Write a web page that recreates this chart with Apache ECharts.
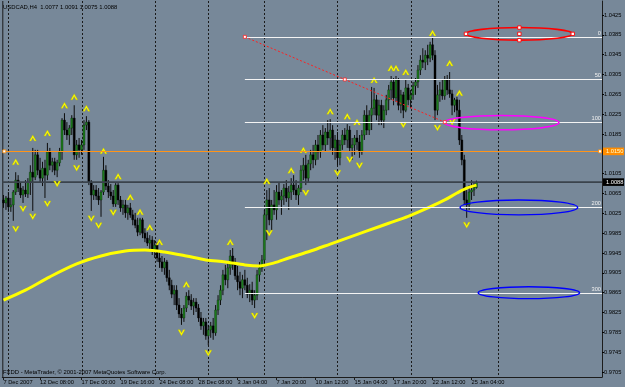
<!DOCTYPE html>
<html><head><meta charset="utf-8">
<script src="https://cdn.jsdelivr.net/npm/echarts@6/dist/echarts.min.js"></script>
<style>html,body{margin:0;padding:0;background:#778899}#c{width:625px;height:387px}</style>
</head><body><div id="c"></div>
<script>
// ---------- data ----------
const header = 'USDCAD,H4  1.0077 1.0091 1.0075 1.0088';
const footer = 'FXDD - MetaTrader, \u00a9 2001-2007 MetaQuotes Software Corp.';
const barCount = 246;
const opens = [1.0052,1.0046,1.0056,1.0038,1.0042,1.0068,1.0092,1.0076,1.0062,1.0072,1.0064,1.0088,1.0108,1.0098,1.0143,1.0112,1.0096,1.0116,1.0102,1.0149,1.0122,1.0129,1.0112,1.0127,1.0149,1.0213,1.0193,1.0183,1.0197,1.0217,1.0143,1.0163,1.0153,1.0163,1.0203,1.0209,1.0088,1.0062,1.0072,1.0060,1.0052,1.0068,1.0112,1.0080,1.0068,1.0060,1.0044,1.0082,1.0052,1.0036,1.0042,1.0026,1.0036,1.0022,1.0012,1.0001,0.9987,1.0012,0.9985,0.9975,0.9965,0.9971,0.9951,0.9961,0.9935,0.9927,0.9915,0.9927,0.9895,0.9880,0.9862,0.9870,0.9840,0.9822,0.9814,0.9834,0.9858,0.9850,0.9838,0.9846,0.9834,0.9814,0.9798,0.9806,0.9778,0.9790,0.9798,0.9784,0.9830,0.9850,0.9870,0.9901,0.9891,0.9915,0.9939,0.9921,0.9899,0.9887,0.9874,0.9891,0.9880,0.9862,0.9870,0.9850,0.9860,0.9901,0.9915,0.9931,1.0022,1.0052,1.0012,1.0042,1.0032,1.0068,1.0052,1.0060,1.0076,1.0056,1.0068,1.0082,1.0072,1.0062,1.0076,1.0112,1.0122,1.0096,1.0125,1.0143,1.0133,1.0163,1.0149,1.0183,1.0163,1.0189,1.0177,1.0193,1.0157,1.0173,1.0137,1.0163,1.0183,1.0173,1.0193,1.0157,1.0163,1.0177,1.0169,1.0149,1.0183,1.0223,1.0193,1.0223,1.0237,1.0254,1.0223,1.0243,1.0213,1.0233,1.0254,1.0274,1.0290,1.0258,1.0294,1.0243,1.0264,1.0233,1.0278,1.0254,1.0264,1.0282,1.0290,1.0314,1.0334,1.0330,1.0344,1.0338,1.0365,1.0344,1.0233,1.0264,1.0274,1.0262,1.0294,1.0274,1.0266,1.0243,1.0254,1.0233,1.0173,1.0133,1.0052,1.0042,1.0068,1.0072,1.0077];
const highs = [1.0062,1.0060,1.0068,1.0056,1.0072,1.0108,1.0102,1.0088,1.0080,1.0092,1.0096,1.0122,1.0157,1.0153,1.0153,1.0137,1.0129,1.0133,1.0167,1.0157,1.0137,1.0137,1.0133,1.0157,1.0217,1.0227,1.0209,1.0203,1.0223,1.0243,1.0173,1.0177,1.0173,1.0213,1.0221,1.0213,1.0092,1.0082,1.0082,1.0076,1.0072,1.0139,1.0122,1.0092,1.0084,1.0072,1.0086,1.0086,1.0060,1.0052,1.0052,1.0042,1.0046,1.0032,1.0026,1.0016,1.0016,1.0016,0.9995,0.9987,0.9981,0.9979,0.9971,0.9967,0.9951,0.9939,0.9935,0.9931,0.9911,0.9891,0.9880,0.9880,0.9854,0.9834,0.9840,0.9866,0.9870,0.9862,0.9854,0.9854,0.9842,0.9826,0.9814,0.9814,0.9800,0.9806,0.9814,0.9840,0.9860,0.9880,0.9911,0.9921,0.9927,0.9951,0.9955,0.9935,0.9919,0.9907,0.9901,0.9911,0.9895,0.9882,0.9887,0.9870,0.9911,0.9927,0.9941,1.0032,1.0072,1.0076,1.0052,1.0072,1.0082,1.0088,1.0072,1.0084,1.0092,1.0080,1.0096,1.0102,1.0092,1.0082,1.0122,1.0137,1.0143,1.0133,1.0153,1.0163,1.0173,1.0183,1.0193,1.0203,1.0197,1.0213,1.0215,1.0203,1.0183,1.0189,1.0173,1.0193,1.0197,1.0205,1.0201,1.0177,1.0183,1.0193,1.0183,1.0193,1.0233,1.0243,1.0233,1.0280,1.0278,1.0264,1.0254,1.0254,1.0243,1.0264,1.0284,1.0302,1.0298,1.0302,1.0298,1.0274,1.0270,1.0294,1.0286,1.0274,1.0290,1.0298,1.0324,1.0344,1.0358,1.0354,1.0365,1.0371,1.0379,1.0354,1.0284,1.0290,1.0294,1.0302,1.0304,1.0310,1.0274,1.0258,1.0260,1.0254,1.0183,1.0143,1.0072,1.0082,1.0092,1.0088,1.0091];
const lows = [1.0036,1.0032,1.0028,1.0028,1.0010,1.0062,1.0068,1.0056,1.0046,1.0058,1.0056,1.0062,1.0030,1.0092,1.0102,1.0088,1.0080,1.0056,1.0092,1.0112,1.0108,1.0102,1.0098,1.0120,1.0133,1.0183,1.0173,1.0163,1.0183,1.0133,1.0133,1.0137,1.0143,1.0153,1.0193,1.0082,1.0030,1.0052,1.0052,1.0042,1.0018,1.0062,1.0072,1.0056,1.0052,1.0038,1.0038,1.0042,1.0028,1.0022,1.0016,1.0012,1.0016,1.0001,0.9995,0.9979,0.9981,0.9975,0.9967,0.9959,0.9951,0.9941,0.9935,0.9927,0.9915,0.9907,0.9901,0.9887,0.9870,0.9854,0.9840,0.9830,0.9814,0.9800,0.9806,0.9826,0.9840,0.9830,0.9820,0.9826,0.9806,0.9790,0.9780,0.9770,0.9759,0.9774,0.9770,0.9778,0.9820,0.9840,0.9860,0.9880,0.9874,0.9901,0.9911,0.9891,0.9870,0.9860,0.9854,0.9870,0.9854,0.9846,0.9840,0.9834,0.9850,0.9887,0.9907,0.9921,0.9971,1.0001,0.9991,1.0022,1.0012,1.0042,1.0022,1.0042,1.0048,1.0032,1.0052,1.0062,1.0052,1.0042,1.0068,1.0092,1.0082,1.0088,1.0112,1.0116,1.0122,1.0133,1.0137,1.0153,1.0149,1.0163,1.0153,1.0143,1.0133,1.0122,1.0122,1.0153,1.0163,1.0157,1.0149,1.0133,1.0143,1.0153,1.0137,1.0143,1.0173,1.0183,1.0183,1.0193,1.0223,1.0213,1.0203,1.0203,1.0197,1.0223,1.0233,1.0254,1.0243,1.0250,1.0233,1.0227,1.0217,1.0229,1.0243,1.0237,1.0254,1.0264,1.0278,1.0304,1.0318,1.0314,1.0324,1.0330,1.0334,1.0213,1.0223,1.0250,1.0254,1.0254,1.0264,1.0258,1.0223,1.0229,1.0219,1.0163,1.0122,1.0042,1.0016,1.0032,1.0052,1.0060,1.0075];
const closes = [1.0046,1.0056,1.0038,1.0042,1.0068,1.0092,1.0076,1.0062,1.0072,1.0064,1.0088,1.0108,1.0098,1.0143,1.0112,1.0096,1.0116,1.0102,1.0149,1.0122,1.0129,1.0112,1.0127,1.0149,1.0213,1.0193,1.0183,1.0197,1.0217,1.0143,1.0163,1.0153,1.0163,1.0203,1.0209,1.0088,1.0062,1.0072,1.0060,1.0052,1.0068,1.0112,1.0080,1.0068,1.0060,1.0044,1.0082,1.0052,1.0036,1.0042,1.0026,1.0036,1.0022,1.0012,1.0001,0.9987,1.0012,0.9985,0.9975,0.9965,0.9971,0.9951,0.9961,0.9935,0.9927,0.9915,0.9927,0.9895,0.9880,0.9862,0.9870,0.9840,0.9822,0.9814,0.9834,0.9858,0.9850,0.9838,0.9846,0.9834,0.9814,0.9798,0.9806,0.9778,0.9790,0.9798,0.9784,0.9830,0.9850,0.9870,0.9901,0.9891,0.9915,0.9939,0.9921,0.9899,0.9887,0.9874,0.9891,0.9880,0.9862,0.9870,0.9850,0.9860,0.9901,0.9915,0.9931,1.0022,1.0052,1.0012,1.0042,1.0032,1.0068,1.0052,1.0060,1.0076,1.0056,1.0068,1.0082,1.0072,1.0062,1.0076,1.0112,1.0122,1.0096,1.0125,1.0143,1.0133,1.0163,1.0149,1.0183,1.0163,1.0189,1.0177,1.0193,1.0157,1.0173,1.0137,1.0163,1.0183,1.0173,1.0193,1.0157,1.0163,1.0177,1.0169,1.0149,1.0183,1.0223,1.0193,1.0223,1.0237,1.0254,1.0223,1.0243,1.0213,1.0233,1.0254,1.0274,1.0290,1.0258,1.0294,1.0243,1.0264,1.0233,1.0278,1.0254,1.0264,1.0282,1.0290,1.0314,1.0334,1.0330,1.0344,1.0338,1.0365,1.0344,1.0233,1.0264,1.0274,1.0262,1.0294,1.0274,1.0266,1.0243,1.0254,1.0233,1.0173,1.0133,1.0052,1.0042,1.0068,1.0072,1.0077,1.0088];

const upFractalIdx = [5,12,18,25,29,34,41,47,52,56,60,64,75,93,108,118,123,134,141,145,152,159,161,165,176,183,187];
const upFractalVal = [1.0129,1.0177,1.0187,1.0243,1.0260,1.0237,1.0151,1.0100,1.0058,1.0028,0.9997,0.9967,0.9882,0.9967,1.0090,1.0112,1.0153,1.0231,1.0221,1.0209,1.0294,1.0318,1.0318,1.0310,1.0389,1.0328,1.0268];
const downFractalIdx = [5,8,12,18,22,30,36,39,45,73,84,103,109,124,137,142,146,164,178,184,190];
const downFractalVal = [0.9993,1.0034,1.0018,1.0044,1.0084,1.0116,1.0014,1.0000,1.0026,0.9784,0.9743,0.9818,0.9985,1.0066,1.0106,1.0133,1.0121,1.0203,1.0197,1.0209,1.0001];

const maIdx = [0,9,19,30,40,50,58,66,75,83,91,99,105,111,117,126,134,142,150,158,166,175,181,186,190,194];
const maVal = [0.9850,0.9870,0.9897,0.9923,0.9939,0.9949,0.9951,0.9947,0.9939,0.9931,0.9927,0.9921,0.9919,0.9925,0.9935,0.9949,0.9963,0.9977,0.9991,1.0005,1.0019,1.0038,1.0052,1.0066,1.0076,1.0082];

const timeLabelIdx = [0,15,32,48,64,80,96,112,128,144,160,176,192];
const timeLabelText = ['7 Dec 2007','12 Dec 08:00','17 Dec 00:00','19 Dec 16:00','24 Dec 08:00','28 Dec 08:00','3 Jan 04:00','7 Jan 20:00','10 Jan 12:00','15 Jan 04:00','17 Jan 20:00','22 Jan 12:00','25 Jan 04:00'];
const priceTicks = [1.0425,1.0385,1.0345,1.0305,1.0265,1.0225,1.0185,1.0105,1.0065,1.0025,0.9985,0.9945,0.9905,0.9865,0.9825,0.9785,0.9745,0.9705];
const priceMin = 0.96949, priceMax = 1.04533;
const separatorIdx = [2,32,62,84,107,137,167,203];

const levelNames = ['0','50','100','200','300'];
const levelPrices = [1.0381,1.0295,1.0209,1.0037,0.9865];
const levelStartIdx = 99;
const trendStart = [99,1.0381], trendMid = [140,1.0295], trendEnd = [181,1.0209];
// ellipses: center bar, center price, half-width (bars), half-height (price)
const ellipseCenterIdx = [211.6,204.3,211.4,215.5];
const ellipseCenterPrice = [1.0387,1.0208,1.0037,0.9865];
const ellipseHalfBars = [21.9,23.5,24.1,20.8];
const ellipseHalfPrice = [0.00127,0.00145,0.0015,0.0012];
const orangePrice = 1.0150, lastPrice = 1.0088;

// ---------- chart ----------
const FONT = '"Liberation Sans", Arial, sans-serif';
const FS = 5.7;
const categories = [];
for (let i = 0; i < barCount; i++) categories.push(String(i));
const candleData = opens.map((o, i) => [i, o, highs[i], lows[i], closes[i]]);
const labelMap = {};
timeLabelIdx.forEach((k, j) => { labelMap[k] = timeLabelText[j]; });

const chart = echarts.init(document.getElementById('c'), null, {renderer: 'canvas'});
const option = {
  backgroundColor: '#778899',
  animation: false,
  grid: {left: 2.3, right: 23, top: 1, bottom: 10, containLabel: false},
  xAxis: {
    type: 'category', data: categories, boundaryGap: true,
    axisLine: {lineStyle: {color: '#1c1c1c', width: 1}},
    axisTick: {show: true, alignWithLabel: true, length: 3, interval: (i) => labelMap.hasOwnProperty(i), lineStyle: {color: '#1c1c1c'}},
    axisLabel: {show: true, interval: (i) => labelMap.hasOwnProperty(i), formatter: (v, i) => labelMap[i] || '',
      align: 'left', margin: 2, fontSize: FS, fontFamily: FONT, color: '#000', hideOverlap: false},
    splitLine: {show: false}
  },
  yAxis: {
    type: 'value', position: 'right', min: priceMin, max: priceMax, scale: true,
    axisLine: {show: true, lineStyle: {color: '#1c1c1c', width: 1}},
    axisTick: {show: true, length: 2, customValues: priceTicks, lineStyle: {color: '#000'}},
    axisLabel: {customValues: priceTicks, formatter: (v) => v.toFixed(4), margin: 2, fontSize: FS, fontFamily: FONT, color: '#000'},
    splitLine: {show: false}
  },
  series: [
    {
      type: 'custom', name: 'candles', data: candleData, encode: {x: 0, y: [1, 2, 3, 4]}, clip: true, z: 3,
      renderItem: function (params, api) {
        const i = api.value(0), o = api.value(1), h = api.value(2), l = api.value(3), c = api.value(4);
        const po = api.coord([i, o]), ph = api.coord([i, h]), pl = api.coord([i, l]), pc = api.coord([i, c]);
        const x = po[0];
        const bull = c >= o;
        const top = Math.min(po[1], pc[1]), bot = Math.max(po[1], pc[1]);
        return {type: 'group', children: [
          {type: 'line', shape: {x1: x, y1: ph[1], x2: x, y2: pl[1]}, style: {stroke: '#0d0d0d', lineWidth: 1}},
          {type: 'rect', shape: {x: x - 1, y: top, width: 2, height: Math.max(bot - top, 1)},
            style: {fill: bull ? '#1d7d1d' : '#000', stroke: bull ? '#0b2b0b' : '#000', lineWidth: 0.4}}
        ]};
      }
    },
    {
      type: 'line', name: 'MA', data: maIdx.map((k, j) => [k, maVal[j]]), smooth: 0.3, showSymbol: false, symbol: 'none',
      lineStyle: {color: '#ffff00', width: 3}, z: 5, silent: true
    },
    {
      type: 'scatter', name: 'upFractals', data: upFractalIdx.map((k, j) => [k, upFractalVal[j]]),
      symbol: 'path://M0,10 L5,0 L10,10 L7.4,10 L5,4.6 L2.6,10 Z', symbolSize: [7, 6],
      itemStyle: {color: '#ffff00', borderColor: '#b8b800', borderWidth: 0.4, opacity: 1}, z: 6, silent: true
    },
    {
      type: 'scatter', name: 'downFractals', data: downFractalIdx.map((k, j) => [k, downFractalVal[j]]),
      symbol: 'path://M0,0 L5,10 L10,0 L7.4,0 L5,5.4 L2.6,0 Z', symbolSize: [7, 6],
      itemStyle: {color: '#ffff00', borderColor: '#b8b800', borderWidth: 0.4, opacity: 1}, z: 6, silent: true
    }
  ]
};
chart.setOption(option);

function P(i, v) { return chart.convertToPixel({xAxisIndex: 0, yAxisIndex: 0}, [i, v]); }
function xAt(i) {
  const a = Math.floor(i), f = i - a;
  const xa = P(a, priceMin)[0], xb = P(a + 1, priceMin)[0];
  return xa + (xb - xa) * f;
}
function yAt(v) { return P(0, v)[1]; }

const gTop = yAt(priceMax), gBot = yAt(priceMin);
const gLeft = 2.3, gRight = 625 - 23;
const g = [];
// left border
g.push({type: 'line', z: 1, shape: {x1: gLeft + 0.5, y1: gTop, x2: gLeft + 0.5, y2: gBot}, style: {stroke: '#1c1c1c', lineWidth: 1}});
// period separators
separatorIdx.forEach((k) => {
  const x = Math.round(xAt(k)) + 0.5;
  g.push({type: 'line', z: 1, shape: {x1: x, y1: gTop, x2: x, y2: gBot}, style: {stroke: '#1a1a1a', lineWidth: 1, lineDash: [2, 2]}});
});
// current price line and orange line
g.push({type: 'line', z: 4, shape: {x1: gLeft, y1: yAt(lastPrice), x2: gRight, y2: yAt(lastPrice)}, style: {stroke: '#3a434c', lineWidth: 1.6}});
g.push({type: 'line', z: 7, shape: {x1: gLeft + 1, y1: Math.round(yAt(orangePrice)) + 0.5, x2: gRight, y2: Math.round(yAt(orangePrice)) + 0.5}, style: {stroke: '#ff9419', lineWidth: 1}});
g.push({type: 'rect', z: 8, shape: {x: gLeft + 0.5, y: yAt(orangePrice) - 1.5, width: 3, height: 3}, style: {fill: '#fff', stroke: '#ff8c00', lineWidth: 0.8}});
g.push({type: 'rect', z: 8, shape: {x: gRight - 3.5, y: yAt(orangePrice) - 1.5, width: 3, height: 3}, style: {fill: '#fff', stroke: '#ff8c00', lineWidth: 0.8}});
// level lines with names
levelPrices.forEach((p, j) => {
  const y = Math.round(yAt(p)) + 0.5;
  const x1 = xAt(levelStartIdx);
  g.push({type: 'line', z: 9, shape: {x1: x1, y1: y, x2: gRight, y2: y}, style: {stroke: '#f4f4f4', lineWidth: 1.2}});
  g.push({type: 'text', z: 9, style: {text: levelNames[j], x: gRight - 1, y: y - 1, fill: '#f0f0f0', font: FS + 'px ' + FONT, align: 'right', verticalAlign: 'bottom', textAlign: 'right', textVerticalAlign: 'bottom'}});
});
// dotted trend line
const ps = P(trendStart[0], trendStart[1]), pm = P(trendMid[0], trendMid[1]), pe = P(trendEnd[0], trendEnd[1]);
g.push({type: 'line', z: 10, shape: {x1: ps[0], y1: yAt(trendStart[1]), x2: pe[0], y2: yAt(trendEnd[1])}, style: {stroke: '#ff2020', lineWidth: 1, lineDash: [2, 2]}});
[ps, pm, pe].forEach((p) => {
  g.push({type: 'rect', z: 11, shape: {x: p[0] - 1.5, y: p[1] - 1.5, width: 3, height: 3}, style: {fill: '#fff', stroke: '#ff2020', lineWidth: 0.8}});
});
// ellipses
const ellColors = ['#ff0000', '#ff00ff', '#0000ff', '#0000ff'];
const ellWidths = [1.6, 1.6, 1.4, 1.4];
ellipseCenterIdx.forEach((ci, j) => {
  const cx = xAt(ci), cy = yAt(ellipseCenterPrice[j]);
  const rx = Math.abs(xAt(ci + ellipseHalfBars[j]) - cx);
  const ry = Math.abs(yAt(ellipseCenterPrice[j] + ellipseHalfPrice[j]) - cy);
  g.push({type: 'ellipse', z: 10, shape: {cx: cx, cy: cy, rx: rx, ry: ry}, style: {fill: 'none', stroke: ellColors[j], lineWidth: ellWidths[j]}});
  if (j === 0) {
    [[cx - rx, cy], [cx + rx, cy], [cx, cy - ry], [cx, cy], [cx, cy + ry]].forEach((q) => {
      g.push({type: 'rect', z: 11, shape: {x: q[0] - 1.7, y: q[1] - 1.7, width: 3.4, height: 3.4}, style: {fill: '#fff', stroke: '#ff0000', lineWidth: 0.9}});
    });
  }
});
// price boxes on the axis
function priceBox(p, bg, fg) {
  const y = yAt(p);
  g.push({type: 'rect', z: 12, shape: {x: gRight + 1, y: y - 3.8, width: 21, height: 7.6}, style: {fill: bg}});
  g.push({type: 'text', z: 13, style: {text: p.toFixed(4), x: gRight + 4, y: y, fill: fg, font: FS + 'px ' + FONT, align: 'left', verticalAlign: 'middle', textAlign: 'left', textVerticalAlign: 'middle'}});
}
priceBox(orangePrice, '#ff8c00', '#ffffd0');
priceBox(lastPrice, '#000000', '#ffffff');
// header and footer
g.push({type: 'text', z: 13, style: {text: header, x: 3, y: 4, fill: '#000', font: '5.9px ' + FONT, align: 'left', verticalAlign: 'top', textAlign: 'left', textVerticalAlign: 'top'}});
g.push({type: 'text', z: 13, style: {text: footer, x: 3, y: 372, fill: '#000', font: '5.9px ' + FONT, align: 'left', verticalAlign: 'middle', textAlign: 'left', textVerticalAlign: 'middle'}});

chart.setOption({graphic: {elements: g}});
</script>
</body></html>
